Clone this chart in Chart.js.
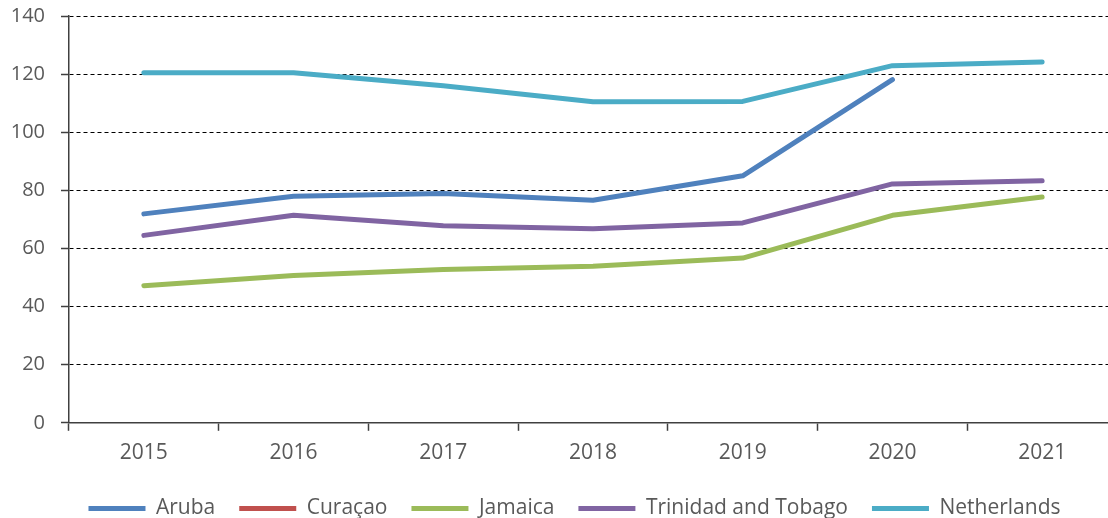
<!DOCTYPE html>
<html>
<head>
<meta charset="utf-8">
<script src="https://cdn.jsdelivr.net/npm/chart.js@4"></script>
<style>
  html, body { margin: 0; padding: 0; background: #fff; overflow: hidden; }
  #wrap { width: 1146px; height: 518px; position: relative; }
</style>
</head>
<body>
<div id="wrap"><canvas id="chart"></canvas></div>
<script>
// Years on the x axis
var years = ['2015', '2016', '2017', '2018', '2019', '2020', '2021'];

// Series values
var aruba = [71.9, 78.0, 78.9, 76.6, 85.0, 118.1, null];
var curacao = [null, null, null, null, null, null, null];
var jamaica = [47.2, 50.7, 52.8, 53.9, 56.7, 71.4, 77.7];
var trinidad = [64.5, 71.4, 67.8, 66.8, 68.8, 82.2, 83.3];
var netherlands = [120.5, 120.5, 116.0, 110.5, 110.6, 122.9, 124.2];

// y axis range
var yMin = 0;
var yMax = 140;
var yStep = 20;

var textColor = '#595959';
var axisColor = '#404040';
var fontFamily = 'Open Sans';

function series(label, data, color) {
  return {
    label: label,
    data: data,
    borderColor: color,
    backgroundColor: color,
    borderWidth: 5,
    borderCapStyle: 'round',
    borderJoinStyle: 'round',
    pointRadius: 0,
    tension: 0,
    spanGaps: false
  };
}

// fixed legend box height, and nudge where it is drawn (no clipping)
var legendShift = {
  id: 'legendShift',
  afterInit: function (chart) {
    var lg = chart.legend;
    if (!lg) return;
    var fit = lg.fit;
    lg.fit = function () {
      fit.call(this);
      this.height = 42;
    };
    lg.draw = function () {
      var c = this.ctx;
      c.save();
      c.translate(16, -2);
      this._draw();
      c.restore();
    };
  }
};

var ctx = document.getElementById('chart').getContext('2d');
var chart = new Chart(ctx, {
  type: 'line',
  data: {
    labels: years,
    datasets: [
      series('Aruba', aruba, '#4F81BD'),
      series('Curaçao', curacao, '#C0504D'),
      series('Jamaica', jamaica, '#9BBB59'),
      series('Trinidad and Tobago', trinidad, '#8064A2'),
      series('Netherlands', netherlands, '#4BACC6')
    ]
  },
  plugins: [legendShift],
  options: {
    responsive: true,
    maintainAspectRatio: false,
    animation: false,
    layout: { padding: { left: 0, right: 29, top: 16, bottom: 0 } },
    plugins: {
      tooltip: { enabled: false },
      legend: {
        position: 'bottom',
        labels: {
          color: textColor,
          font: { family: fontFamily, size: 21 },
          boxWidth: 57,
          boxHeight: 5,
          padding: 24,
          generateLabels: function (c) {
            return c.data.datasets.map(function (ds, i) {
              return {
                text: ds.label,
                fillStyle: ds.borderColor,
                strokeStyle: ds.borderColor,
                lineWidth: 0,
                fontColor: textColor,
                datasetIndex: i
              };
            });
          }
        }
      }
    },
    scales: {
      x: {
        offset: true,
        grid: {
          offset: true,
          drawOnChartArea: false,
          drawTicks: true,
          tickLength: 8,
          tickColor: axisColor,
          tickWidth: 1.5
        },
        border: { display: true, color: axisColor, width: 1.5 },
        ticks: {
          color: textColor,
          font: { family: fontFamily, size: 21 },
          padding: 10,
          maxRotation: 0
        }
      },
      y: {
        min: yMin,
        max: yMax,
        afterFit: function (scale) {
          scale.width = 69;
          scale.paddingTop = 0;
          scale.paddingBottom = 0;
        },
        grid: {
          color: function (c) { return c.tick && c.tick.value === 0 ? 'rgba(0,0,0,0)' : '#000'; },
          lineWidth: 1,
          drawTicks: true,
          tickLength: 8,
          tickColor: axisColor,
          tickBorderDash: [],
          tickWidth: 1.5
        },
        border: { display: true, color: axisColor, width: 1.5, dash: [4, 3] },
        ticks: {
          stepSize: yStep,
          color: textColor,
          font: { family: fontFamily, size: 20 },
          padding: 16
        }
      }
    }
  }
});
</script>
</body>
</html>
